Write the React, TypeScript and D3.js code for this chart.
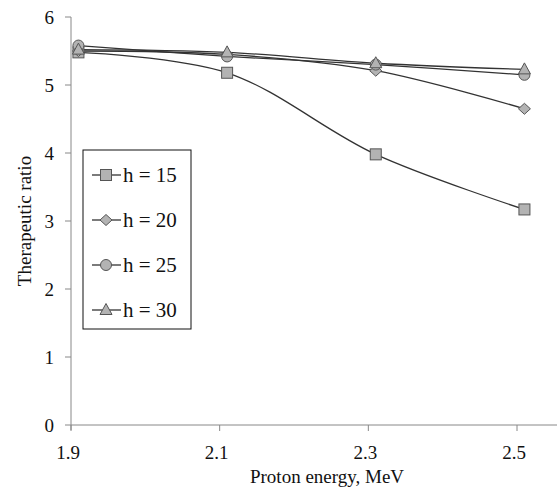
import * as d3 from "d3";

const energies = [1.91, 2.11, 2.31, 2.51];
const h15 = [5.48, 5.18, 3.98, 3.17];
const h20 = [5.5, 5.45, 5.21, 4.65];
const h25 = [5.58, 5.42, 5.3, 5.15];
const h30 = [5.52, 5.48, 5.32, 5.23];
const seriesNames = ["h = 15", "h = 20", "h = 25", "h = 30"];
const markers = ["square", "diamond", "circle", "triangle"];
const xTicks = [1.9, 2.1, 2.3, 2.5];
const yTicks = [0, 1, 2, 3, 4, 5, 6];

const width = 557;
const height = 489;
const font = "Liberation Serif";

const Marker = ({ kind, x, y }: { kind: string; x: number; y: number }) => {
  const fill = "#b3b3b3";
  const stroke = "#555";
  if (kind === "square")
    return <rect x={x - 5.5} y={y - 5.5} width={11} height={11} fill={fill} stroke={stroke} />;
  if (kind === "diamond")
    return <path d={`M${x},${y - 5.5}L${x + 6},${y}L${x},${y + 5.5}L${x - 6},${y}Z`} fill={fill} stroke={stroke} />;
  if (kind === "circle") return <circle cx={x} cy={y} r={5.5} fill={fill} stroke={stroke} />;
  return <path d={`M${x},${y - 6.5}L${x + 6},${y + 4.5}L${x - 6},${y + 4.5}Z`} fill={fill} stroke={stroke} />;
};

const App = () => {
  const x = d3.scaleLinear().domain([1.9, 2.5]).range([71, 517]);
  const y = d3.scaleLinear().domain([0, 6]).range([425, 17]);
  const series = [h15, h20, h25, h30];

  const line = d3
    .line<number>()
    .x((_, i) => x(energies[i]))
    .y((d) => y(d))
    .curve(d3.curveCatmullRom.alpha(0.5));

  return (
    <svg width={width} height={height} style={{ position: "absolute", left: 0, top: 0, background: "#fff" }}>
      {/* axes */}
      <line x1={x(1.9)} x2={width} y1={y(0)} y2={y(0)} stroke="#888" />
      <line x1={x(1.9)} x2={x(1.9)} y1={y(6)} y2={y(0) + 5} stroke="#888" />
      {yTicks.map((t) => (
        <g key={t}>
          <line x1={x(1.9) - 6} x2={x(1.9)} y1={y(t)} y2={y(t)} stroke="#888" />
          <text x={54} y={y(t)} dy="0.35em" textAnchor="end" fontSize={19} fill="#111" fontFamily={font}>
            {t}
          </text>
        </g>
      ))}
      {xTicks.map((t) => (
        <g key={t}>
          <line x1={x(t)} x2={x(t)} y1={y(0)} y2={y(0) + 6} stroke="#888" />
          <text x={x(t) - 3} y={452} dy="0.35em" textAnchor="middle" fontSize={19} fill="#111" fontFamily={font}>
            {t.toFixed(1)}
          </text>
        </g>
      ))}
      <text x={327} y={476} dy="0.35em" textAnchor="middle" fontSize={19} fill="#111" fontFamily={font}>
        Proton energy, MeV
      </text>
      <text
        transform="translate(24,221) rotate(-90)"
        dy="0.35em"
        textAnchor="middle"
        fontSize={19}
        fill="#111"
        fontFamily={font}
      >
        Therapeutic ratio
      </text>

      {/* series */}
      {series.map((s, si) => (
        <path key={si} d={line(s) ?? ""} fill="none" stroke="#333" strokeWidth={1.3} />
      ))}
      {series.map((s, si) =>
        s.map((v, i) => <Marker key={`${si}-${i}`} kind={markers[si]} x={x(energies[i])} y={y(v)} />)
      )}

      {/* legend */}
      <rect x={83} y={150} width={108} height={179} fill="#fff" stroke="#111" />
      {seriesNames.map((name, i) => {
        const ly = 175 + i * 45;
        return (
          <g key={name}>
            <line x1={92} x2={121} y1={ly} y2={ly} stroke="#333" strokeWidth={1.3} />
            <Marker kind={markers[i]} x={106} y={ly} />
            <text x={123} y={ly} dy="0.35em" fontSize={21} fill="#111" fontFamily={font}>
              {name}
            </text>
          </g>
        );
      })}
    </svg>
  );
};

export default App;
